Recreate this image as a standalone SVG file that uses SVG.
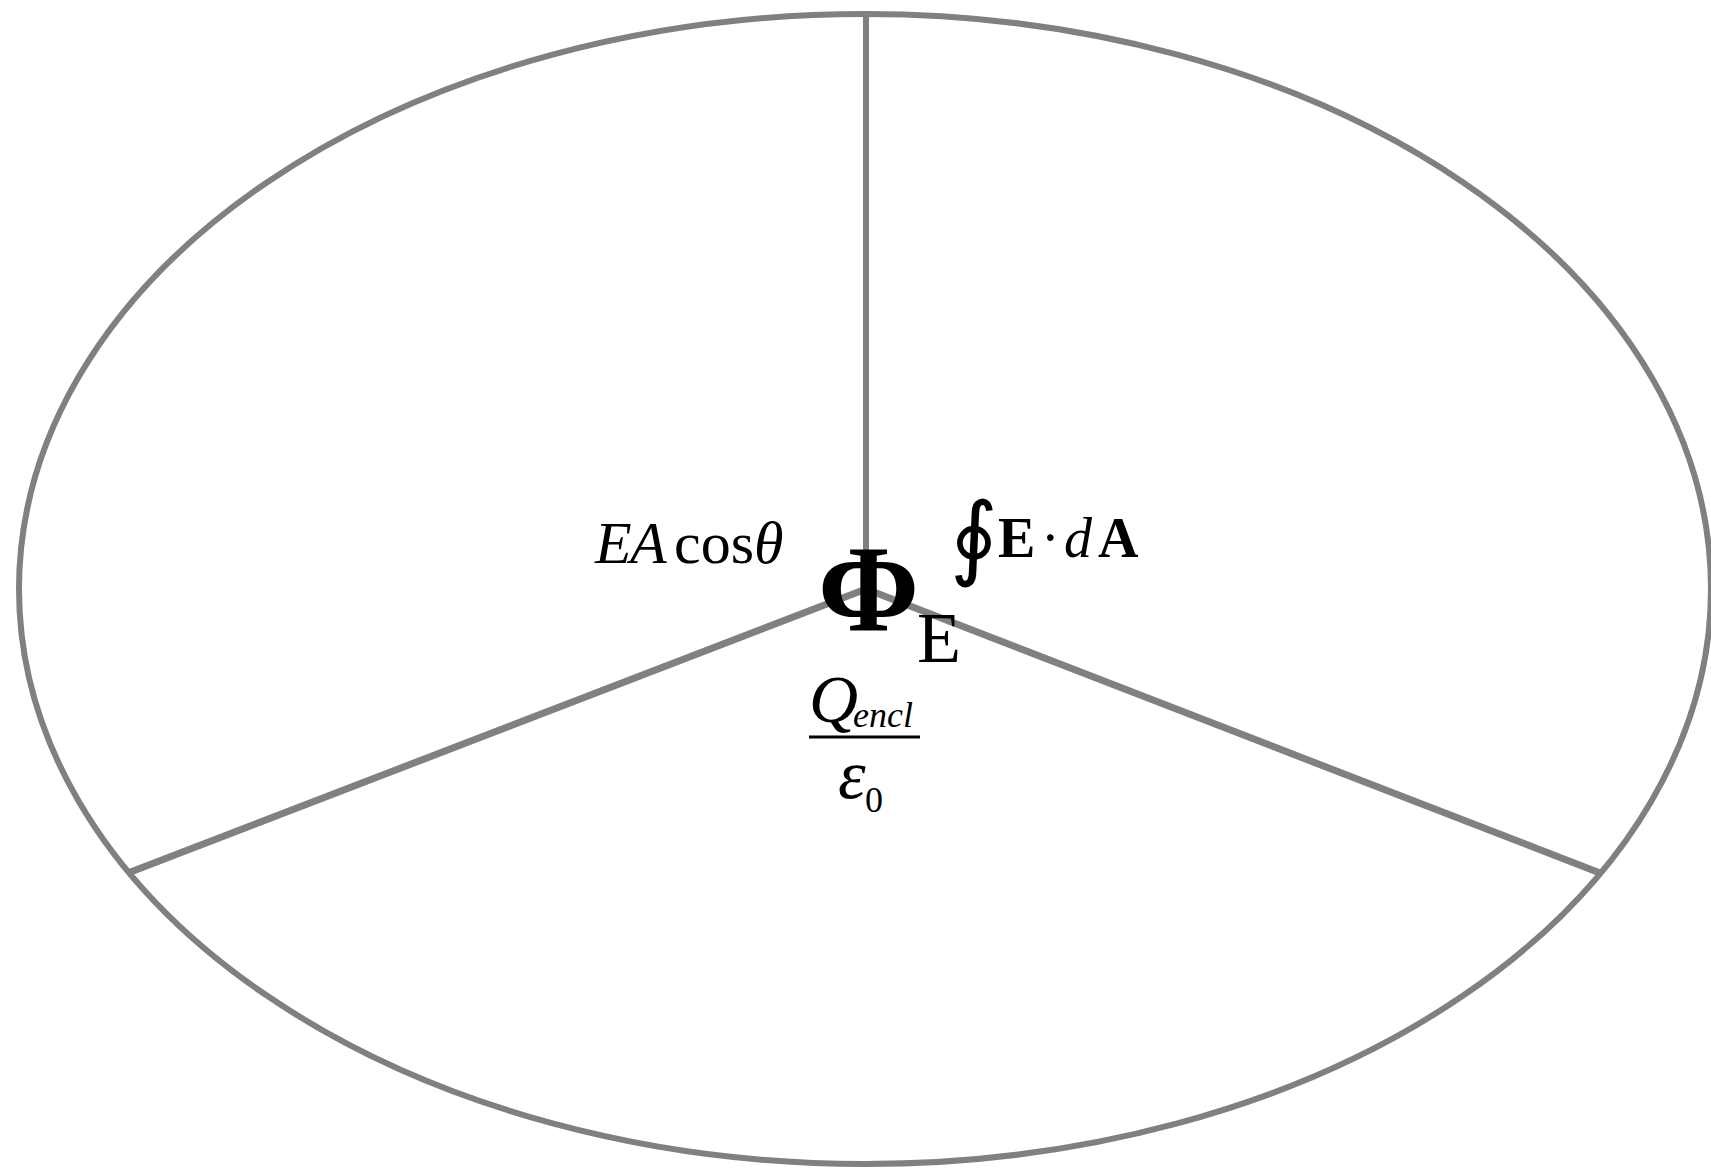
<svg xmlns="http://www.w3.org/2000/svg" width="1711" height="1168" viewBox="0 0 1711 1168">
<style>
.ln{stroke:#808080;fill:none;stroke-linecap:butt}
.t{font-family:"Liberation Serif","Times New Roman",serif;fill:#000}
.i{font-style:italic}
.b{font-weight:bold}
</style>
<rect width="1711" height="1168" fill="#fff"/>
<g id="shape">
<ellipse class="ln" cx="865" cy="589" rx="846" ry="575" stroke-width="6"/>
</g>
<g id="connectors">
<line class="ln" x1="866" y1="14" x2="866" y2="589" stroke-width="6"/>
<line class="ln" x1="866" y1="589" x2="128" y2="873" stroke-width="7"/>
<line class="ln" x1="866" y1="589" x2="1600" y2="873" stroke-width="7"/>
</g>
<g id="flux">
<text class="t b" x="818" y="630" font-size="122">Φ</text>
<text class="t" x="917" y="662" font-size="72">E</text>
</g>
<g id="ea-cos">
<text class="t" font-size="60" y="563"><tspan class="i" x="595">E</tspan><tspan class="i" x="630">A</tspan><tspan x="674">cos</tspan><tspan class="i" x="754">θ</tspan></text>
</g>
<g id="integral">
<text x="950" y="568" font-size="92" style="font-family:'DejaVu Serif',serif">∮</text>
<text class="t b" font-size="56" y="557"><tspan x="998">E</tspan></text>
<text class="t" font-size="56" y="557"><tspan x="1041">·</tspan><tspan class="i" x="1064">d</tspan></text>
<text class="t b" font-size="56" y="557"><tspan x="1098">A</tspan></text>
</g>
<g id="fraction">
<text class="t i" x="809" y="722" font-size="68">Q</text>
<text class="t i" x="853" y="727" font-size="36">encl</text>
<line x1="809" y1="737" x2="920" y2="737" stroke="#000" stroke-width="3"/>
<text class="t i" x="838" y="798" font-size="70">ε</text>
<text class="t" x="865" y="812" font-size="36">0</text>
</g>
</svg>
